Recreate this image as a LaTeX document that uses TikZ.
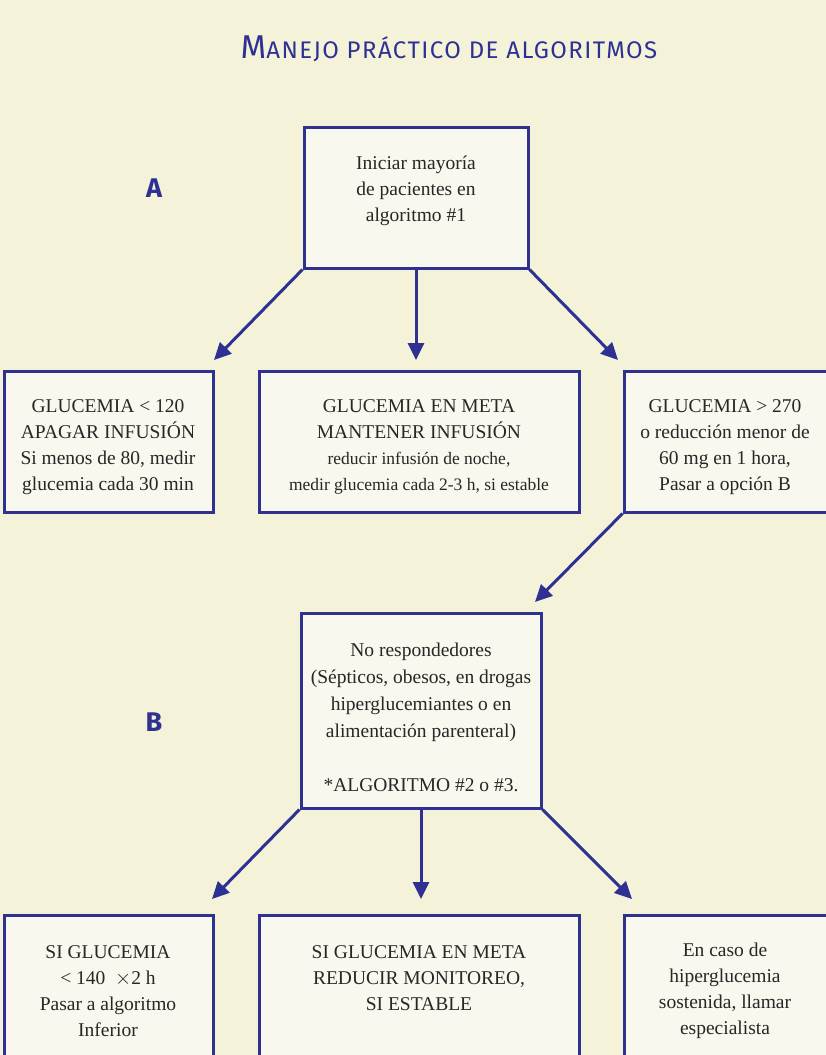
\documentclass[tikz,border=0pt]{standalone}
\usepackage{fontspec}
\setmainfont{Liberation Serif}
\newfontfamily\titlefont{Fira Sans}
\usetikzlibrary{arrows.meta}
\definecolor{bgc}{HTML}{F4F3DA}
\definecolor{boxfill}{HTML}{F8F8EE}
\definecolor{navy}{HTML}{2E3192}
\definecolor{ink}{HTML}{2A2526}
\tikzset{
  box/.style={draw=navy, line width=3pt, fill=boxfill, inner sep=0pt},
  txt/.style={text=ink, align=center, inner sep=0pt, font=\fontsize{19.5}{26}\selectfont},
  conn/.style={draw=navy, line width=3pt, -{Triangle[length=17pt,width=16pt]}},
  lbl/.style={text=navy, font=\titlefont\bfseries\fontsize{27}{27}\selectfont},
}
\begin{document}
\begin{tikzpicture}[x=1pt,y=-1pt]
\useasboundingbox (0,0) rectangle (826,1055);
\clip (0,0) rectangle (826,1055);
\fill[bgc] (0,0) rectangle (826,1055);

% title
\node[text=navy, anchor=base, inner sep=0pt] (title) at (449,58)
  {\titlefont\addfontfeature{LetterSpace=6}{\fontsize{33}{33}\selectfont M}{\fontsize{24}{24}\selectfont ANEJO PRÁCTICO DE ALGORITMOS}};
\node[lbl] (labA) at (154,188) {A};
\node[lbl] (labB) at (154,722) {B};

% boxes
\node[box, minimum width=224pt, minimum height=141pt] (b1) at (416,197.5) {};
\node[box, minimum width=209pt, minimum height=141pt] (r2l) at (108.5,441.5) {};
\node[box, minimum width=320pt, minimum height=141pt] (r2m) at (419,441.5) {};
\node[box, minimum width=220pt, minimum height=141pt] (r2r) at (734,441.5) {};
\node[box, minimum width=240pt, minimum height=195pt] (bB) at (421,710.5) {};
\node[box, minimum width=209pt, minimum height=160pt] (r3l) at (108.5,995) {};
\node[box, minimum width=320pt, minimum height=160pt] (r3m) at (419,995) {};
\node[box, minimum width=220pt, minimum height=160pt] (r3r) at (734,995) {};

% texts
\node[txt] (t1) at (416,191) {Iniciar mayoría\\de pacientes en\\algoritmo \#1};
\node[txt] (t2l) at (108,447) {GLUCEMIA < 120\\APAGAR INFUSIÓN\\Si menos de 80, medir\\glucemia cada 30 min};
\node[txt] (t2m) at (419,447) {GLUCEMIA EN META\\MANTENER INFUSIÓN\\{\fontsize{17.5}{26}\selectfont reducir infusión de noche,}\\{\fontsize{17.5}{26}\selectfont medir glucemia cada 2-3 h, si estable}};
\node[txt] (t2r) at (725,447) {GLUCEMIA > 270\\o reducción menor de\\60 mg en 1 hora,\\Pasar a opción B};
\node[txt, font=\fontsize{19.5}{27}\selectfont] (tB) at (421,717.5) {No respondedores\\(Sépticos, obesos, en drogas\\hiperglucemiantes o en\\alimentación parenteral)\\[27pt]*ALGORITMO \#2 o \#3.};
\node[txt] (t3l) at (108,991) {SI GLUCEMIA\\< 140 ~$\times$2 h\\Pasar a algoritmo\\Inferior};
\node[txt] (t3m) at (419,978) {SI GLUCEMIA EN META\\REDUCIR MONITOREO,\\SI ESTABLE};
\node[txt] (t3r) at (725,991) {En caso de\\hiperglucemia\\sostenida, llamar\\especialista};

% arrow end points
\coordinate (e1l) at (214,360);
\coordinate (e1m) at (416,360);
\coordinate (e1r) at (618,360);
\coordinate (e2) at (535,602);
\coordinate (e3l) at (212,899);
\coordinate (e3m) at (421,899);
\coordinate (e3r) at (632,899);

\draw[conn] (b1.south west) -- (e1l);
\draw[conn] (b1.south) -- (e1m);
\draw[conn] (b1.south east) -- (e1r);
\draw[conn] (r2r.south west) -- (e2);
\draw[conn] (bB.south west) -- (e3l);
\draw[conn] (bB.south) -- (e3m);
\draw[conn] (bB.south east) -- (e3r);
\end{tikzpicture}
\end{document}
